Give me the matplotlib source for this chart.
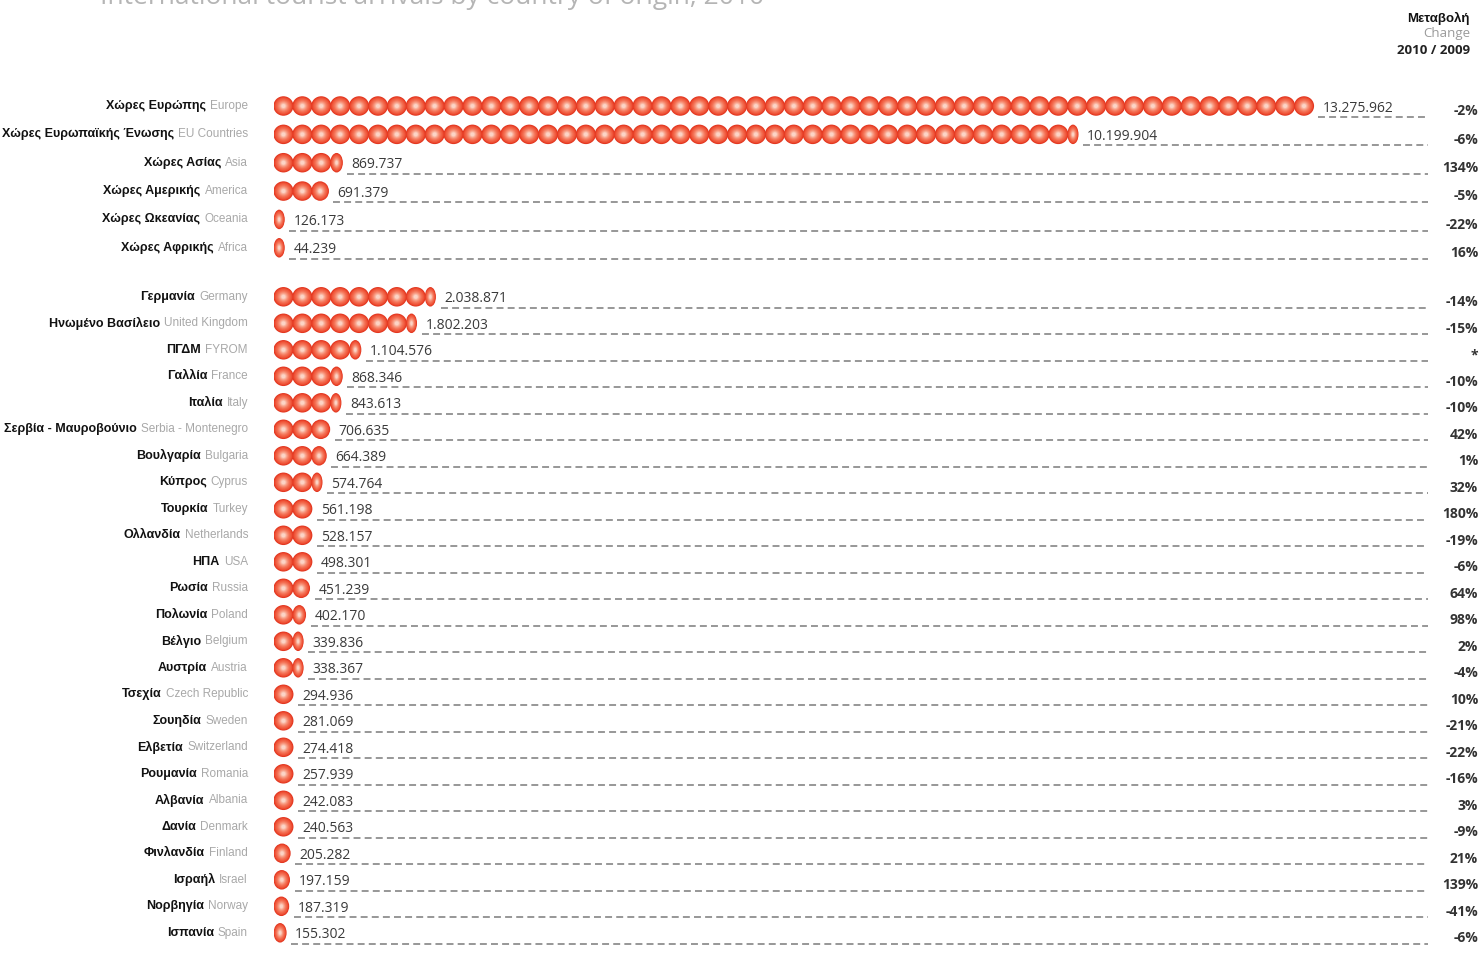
import numpy as np
import matplotlib
matplotlib.use("Agg")
import matplotlib.pyplot as plt
from matplotlib.patches import Ellipse
from matplotlib.colors import LinearSegmentedColormap
import matplotlib.transforms as mtransforms

# ---------------- data ----------------
greek_names = [
    "Χώρες Ευρώπης", "Χώρες Ευρωπαϊκής Ένωσης", "Χώρες Ασίας", "Χώρες Αμερικής",
    "Χώρες Ωκεανίας", "Χώρες Αφρικής",
    "Γερμανία", "Ηνωμένο Βασίλειο", "ΠΓΔΜ", "Γαλλία", "Ιταλία",
    "Σερβία - Μαυροβούνιο", "Βουλγαρία", "Κύπρος", "Τουρκία", "Ολλανδία",
    "ΗΠΑ", "Ρωσία", "Πολωνία", "Βέλγιο", "Αυστρία", "Τσεχία", "Σουηδία",
    "Ελβετία", "Ρουμανία", "Αλβανία", "Δανία", "Φινλανδία", "Ισραήλ",
    "Νορβηγία", "Ισπανία",
]
english_names = [
    "Europe", "EU Countries", "Asia", "America", "Oceania", "Africa",
    "Germany", "United Kingdom", "FYROM", "France", "Italy",
    "Serbia - Montenegro", "Bulgaria", "Cyprus", "Turkey", "Netherlands",
    "USA", "Russia", "Poland", "Belgium", "Austria", "Czech Republic", "Sweden",
    "Switzerland", "Romania", "Albania", "Denmark", "Finland", "Israel",
    "Norway", "Spain",
]
arrivals_2010 = [
    13275962, 10199904, 869737, 691379, 126173, 44239,
    2038871, 1802203, 1104576, 868346, 843613,
    706635, 664389, 574764, 561198, 528157,
    498301, 451239, 402170, 339836, 338367, 294936, 281069,
    274418, 257939, 242083, 240563, 205282, 197159,
    187319, 155302,
]
change_pct = [
    -2, -6, 134, -5, -22, 16,
    -14, -15, None, -10, -10,
    42, 1, 32, 180, -19,
    -6, 64, 98, 2, -4, 10, -21,
    -22, -16, 3, -9, 21, 139,
    -41, -6,
]
header_lines = ["Μεταβολή", "Change", "2010 / 2009"]
title_text = "International tourist arrivals by country of origin, 2010"

# ---------------- layout ----------------
W, H = 1483, 958
fig = plt.figure(figsize=(W / 100, H / 100), dpi=100)
plt.rcParams["lines.scale_dashes"] = False

unit = 240000.0                 # visitors represented by one ball
px_per_unit = 18.9              # pixel pitch of one ball
ax_left_px, ax_right_px = 274, 1430
row_px = 26.5
first_row_px = 106

ax = fig.add_axes([ax_left_px / W, 0, (ax_right_px - ax_left_px) / W, 1])
xmax = (ax_right_px - ax_left_px) / px_per_unit * unit
ax.set_xlim(0, xmax)
top_val = -first_row_px / row_px
ax.set_ylim(top_val + H / row_px, top_val)
ax.axis("off")

data_per_px = unit / px_per_unit
ypos = [i * 1.07 if i < 6 else i + 1.2 for i in range(len(arrivals_2010))]

ball_cmap = LinearSegmentedColormap.from_list(
    "ball", [(0.0, "#e2361f"), (0.15, "#ef4f34"), (0.5, "#f57559"),
             (0.8, "#f9a891"), (1.0, "#fcd4c6")])
ball_h = 19.5 / row_px


def draw_ball(xc, yc, w):
    n = 10
    for j in range(n):
        t = j / (n - 1)
        s = 1 - 0.8 * t
        ax.add_patch(Ellipse((xc, yc), w * s, ball_h * s,
                             facecolor=ball_cmap(t), edgecolor="none",
                             antialiased=True, zorder=3 + j * 0.01))


label_font = ["Open Sans", "DejaVu Sans"]
narrow_font = ["Liberation Sans Narrow", "Liberation Sans", "DejaVu Sans"]

fig_x = mtransforms.blended_transform_factory(fig.transFigure, ax.transData)

for i, v in enumerate(arrivals_2010):
    y = ypos[i]
    ratio = v / unit
    n_full = int(ratio)
    frac = ratio - n_full
    if n_full >= 1 and frac < 0.35:
        frac = 0.0
    elif frac > 0:
        frac = max(frac, 0.55)
    x = 0.0
    for k in range(n_full):
        draw_ball(x + unit / 2, y, unit * 1.06)
        x += unit
    if frac > 0:
        wpart = frac * unit
        draw_ball(x + wpart / 2, y, wpart * 1.06)
        x += wpart
    # value label + dashed leader
    lab = f"{v:,}".replace(",", ".")
    ax.text(x + 9 * data_per_px, y + 0.08, lab, fontsize=10, color="#3a3a3a",
            family=label_font, va="center", ha="left", zorder=5)
    ax.hlines(y + 0.42, x + 5 * data_per_px, xmax - 2 * data_per_px,
              colors="#8f8f8f", linestyles=(0, (5, 3)), linewidth=1.3, zorder=2)
    # change label
    c = change_pct[i]
    ctext = "*" if c is None else f"{c}%"
    ax.text(1478 / W, y + 0.2, ctext, transform=fig_x, fontsize=10,
            color="#333333", family=label_font, fontweight="bold",
            ha="right", va="center")
    # row labels
    eng = ax.text(248 / W, y, english_names[i], transform=fig_x, fontsize=8.5,
                  color="#a8a8a8", family=narrow_font, ha="right", va="center")
    ax.annotate(greek_names[i], xy=(0, 0.5), xycoords=eng, xytext=(-3, 0),
                textcoords="offset points", fontsize=9, color="#111111",
                family=narrow_font, fontweight="bold", ha="right", va="center")

# header on the right
fig.text(1470 / W, 1 - 18 / H, header_lines[0], fontsize=9.5, color="#111111",
         family=narrow_font, fontweight="bold", ha="right", va="center")
fig.text(1470 / W, 1 - 33 / H, header_lines[1], fontsize=9.5, color="#9a9a9a",
         family=label_font, ha="right", va="center")
fig.text(1470 / W, 1 - 50 / H, header_lines[2], fontsize=9.5, color="#222222",
         family=label_font, fontweight="bold", ha="right", va="center")

# title, cut off at the very top as in the source scan
fig.text(100 / W, 1 - 4 / H, title_text, fontsize=19, color="#b5b5b5",
         family=label_font, ha="left", va="baseline")

fig.savefig("out.png", dpi=100, facecolor="white")
